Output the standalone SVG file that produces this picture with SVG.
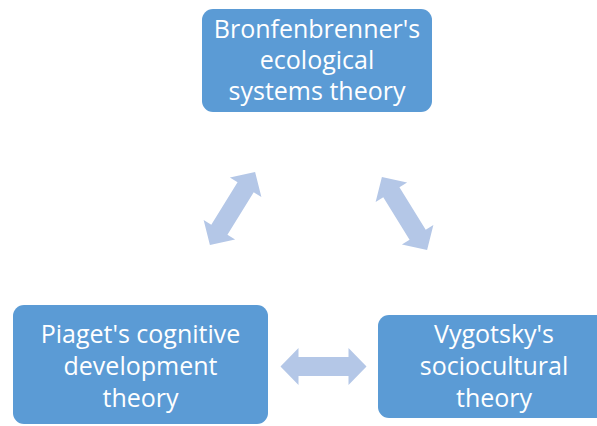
<svg xmlns="http://www.w3.org/2000/svg" width="597" height="426" viewBox="0 0 597 426">
<defs>
<style>
.box{fill:#5B9BD5;}
.lbl{fill:#FFFFFF;font-family:"Open Sans","Liberation Sans",sans-serif;font-size:25px;text-anchor:middle;}
.arr{fill:#B4C7E7;}
</style>
<path id="dbl" d="M-43,0 L-25,-18.5 L-25,-9.5 L25,-9.5 L25,-18.5 L43,0 L25,18.5 L25,9.5 L-25,9.5 L-25,18.5 Z"/>
</defs>
<rect width="597" height="426" fill="#FFFFFF"/>
<g id="connectors">
<use href="#dbl" class="arr" transform="translate(232.5,208.5) rotate(-58.3)"/>
<use href="#dbl" class="arr" transform="translate(404.5,213.5) rotate(58.3)"/>
<use href="#dbl" class="arr" transform="translate(323.5,366.5)"/>
</g>
<g id="bronfenbrenner">
<rect class="box" x="202" y="9" width="230" height="103" rx="11"/>
<text class="lbl" x="317" y="38">Bronfenbrenner's</text>
<text class="lbl" x="317" y="69">ecological</text>
<text class="lbl" x="317" y="100">systems theory</text>
</g>
<g id="piaget">
<rect class="box" x="13" y="305" width="255" height="119" rx="11"/>
<text class="lbl" x="140.5" y="343">Piaget's cognitive</text>
<text class="lbl" x="140.5" y="375">development</text>
<text class="lbl" x="140.5" y="407">theory</text>
</g>
<g id="vygotsky">
<rect class="box" x="378" y="315" width="240" height="103" rx="11"/>
<text class="lbl" x="494" y="343">Vygotsky's</text>
<text class="lbl" x="494" y="375">sociocultural</text>
<text class="lbl" x="494" y="407">theory</text>
</g>
</svg>
